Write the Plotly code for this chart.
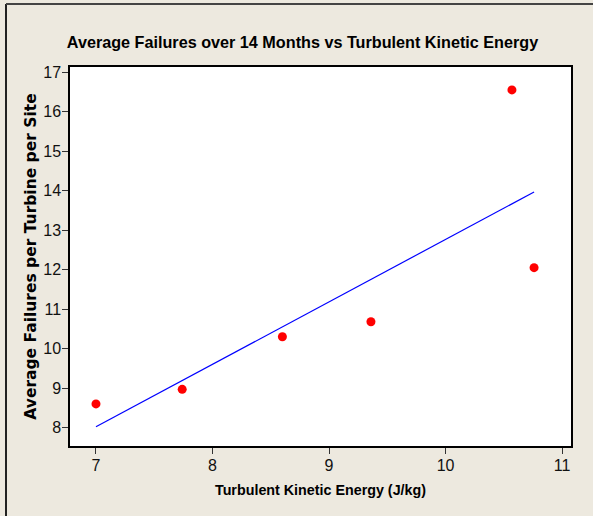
import numpy as np
import plotly.graph_objects as go

# Data
tke = [7.00, 7.74, 8.60, 9.36, 10.57, 10.76]          # Turbulent Kinetic Energy (J/kg)
failures = [8.60, 8.97, 10.30, 10.68, 16.55, 12.05]   # Average failures per turbine per site
x_ticks = [7, 8, 9, 10, 11]
y_ticks = [8, 9, 10, 11, 12, 13, 14, 15, 16, 17]

title_text = "Average Failures over 14 Months vs Turbulent Kinetic Energy"
x_title = "Turbulent Kinetic Energy (J/kg)"
y_title = "Average Failures per Turbine per Site"

# Least-squares fitted line
slope, intercept = np.polyfit(tke, failures, 1)
fit_x = [min(tke), max(tke)]
fit_y = [slope * v + intercept for v in fit_x]

W, H = 593, 516
ML, MR, MT, MB = 70, 22, 67, 70
BG = "#EDE9DF"

fig = go.Figure()
fig.add_trace(go.Scatter(x=fit_x, y=fit_y, mode="lines",
                         line=dict(color="#0000FF", width=1.2),
                         hoverinfo="skip", showlegend=False))
fig.add_trace(go.Scatter(x=tke, y=failures, mode="markers",
                         marker=dict(color="#FF0000", size=9, line=dict(width=0)),
                         showlegend=False))

tick_font = dict(family="Liberation Sans, Arial, sans-serif", size=16, color="#111111")

fig.update_layout(
    width=W, height=H,
    margin=dict(l=ML, r=MR, t=MT, b=MB),
    paper_bgcolor=BG, plot_bgcolor="white",
    title=dict(text="<b>" + title_text + "</b>", x=302.5 / W, xanchor="center",
               y=1 - 42 / H, yanchor="middle",
               font=dict(family="Liberation Sans, Arial, sans-serif",
                         size=16.2, color="#000000")),
    xaxis=dict(range=[6.777, 11.077], tickvals=x_ticks, ticks="outside", ticklen=6,
               tickcolor="#333333", tickwidth=1, showgrid=False, zeroline=False,
               showline=True, linecolor="#000000", linewidth=1.5, mirror=True,
               tickfont=tick_font, ticklabelstandoff=-2,
               title=dict(text="<b>" + x_title + "</b>", standoff=12,
                          font=dict(family="Liberation Sans, Arial, sans-serif",
                                    size=14.3, color="#000000"))),
    yaxis=dict(range=[7.535, 17.13], tickvals=y_ticks, ticks="outside", ticklen=6,
               tickcolor="#333333", tickwidth=1, showgrid=False, zeroline=False,
               showline=True, linecolor="#000000", linewidth=1.5, mirror=True,
               tickfont=tick_font, ticklabelstandoff=-2,
               title=dict(text="<b>" + y_title + "</b>", standoff=3,
                          font=dict(family="DejaVu Sans, Verdana, sans-serif",
                                    size=15.5, color="#000000"))),
)

# Outer frame (left and top edges as in the reference)
pw = W - ML - MR
ph = H - MT - MB
x_left = (6 - ML) / pw
y_top = (H - MB - 4) / ph
fig.add_shape(type="line", xref="paper", yref="paper", x0=x_left, x1=x_left,
              y0=-MB / ph, y1=y_top, line=dict(color="#222222", width=2))
fig.add_shape(type="line", xref="paper", yref="paper", x0=x_left, x1=(W - ML) / pw,
              y0=y_top, y1=y_top, line=dict(color="#444444", width=2))

fig.write_html("out.html", config={"displayModeBar": False},
               post_script="document.body.style.margin='0';document.body.style.background='" + BG + "';")
